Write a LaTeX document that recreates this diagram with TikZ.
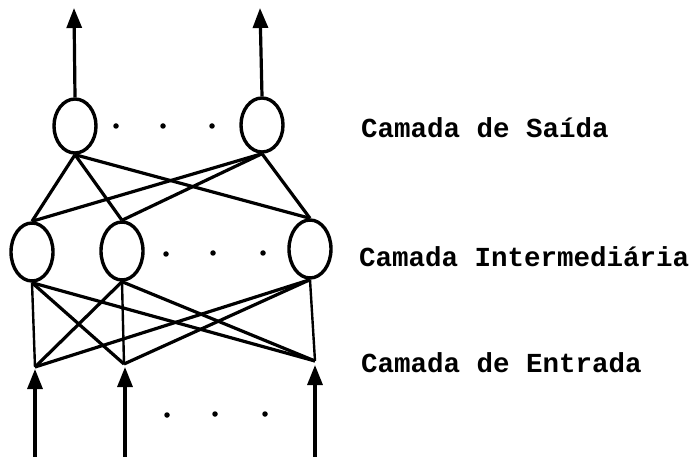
\documentclass[tikz,border=0pt]{standalone}
\usepackage{fontspec}
\setmonofont{Liberation Mono}
\usetikzlibrary{shapes.geometric,arrows.meta}
\begin{document}
\begin{tikzpicture}[x=1pt,y=-1pt,
  neuron/.style={draw,ellipse,line width=3.4pt,minimum width=42pt,minimum height=54pt,inner sep=0pt},
  link/.style={line width=3.2pt},
  feed/.style={line width=2.4pt},
  arr/.style={line width=3.2pt,-{Triangle[length=20pt,width=15pt]}},
  dotmark/.style={fill,circle,inner sep=0pt,minimum size=5.5pt},
  layerlabel/.style={anchor=west,inner sep=0pt,font=\ttfamily\bfseries\fontsize{27.5}{30}\selectfont}]
  \useasboundingbox[fill=white] (0,0) rectangle (691,457);

  % output layer
  \node[neuron] (o1) at (75,126) {};
  \node[neuron] (o2) at (262,125) {};
  \coordinate (t1) at (74,8);
  \coordinate (t2) at (260,8);
  \draw[arr] (o1.north) -- (t1);
  \draw[arr] (o2.north) -- (t2);

  % hidden layer
  \node[neuron,minimum height=58pt] (h1) at (32,252) {};
  \node[neuron,minimum height=58pt] (h2) at (122,251) {};
  \node[neuron,minimum height=58pt] (h3) at (310,249) {};

  % output <- hidden
  \foreach \o in {o1,o2}
    \foreach \h in {h1,h2,h3}
      \draw[link] (\o.south) -- (\h.north);

  % input points
  \coordinate (i1) at (35,367);
  \coordinate (i2) at (124,364);
  \coordinate (i3) at (315,361);
  \foreach \h/\i in {h1/i1,h2/i2,h3/i3}
    \draw[feed] (\h.south) -- (\i);
  \foreach \h/\i in {h1/i2,h1/i3,h2/i1,h2/i3,h3/i1,h3/i2}
    \draw[link] (\h.south) -- (\i);

  % input arrows
  \coordinate (b1) at (35,457);
  \coordinate (b2) at (125,457);
  \coordinate (b3) at (315,457);
  \coordinate (a1) at (35,369);
  \coordinate (a2) at (125,367);
  \coordinate (a3) at (315,365);
  \foreach \b/\a in {b1/a1,b2/a2,b3/a3}
    \draw[arr] (\b) -- (\a);

  % ellipsis dots
  \foreach \x/\y [count=\k] in {116/126,163/126,212/126,166/254,213/253,263/253,167/415,215/414,265/414}
    \node[dotmark] (d\k) at (\x,\y) {};

  % layer labels
  \node[layerlabel] (ls) at (361,128) {Camada de Saída};
  \node[layerlabel] (lh) at (359,257) {Camada Intermediária};
  \node[layerlabel] (le) at (361,363) {Camada de Entrada};
\end{tikzpicture}
\end{document}
